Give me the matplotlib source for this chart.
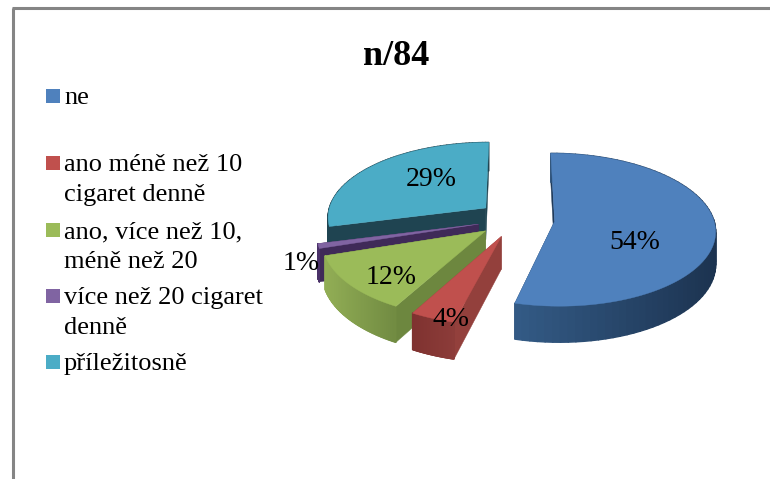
import numpy as np
import matplotlib
matplotlib.use('Agg')
import matplotlib.pyplot as plt
from matplotlib.collections import PolyCollection
from matplotlib.colors import to_rgb
from matplotlib.patches import Rectangle

title = 'n/84'
labels = ['ne', 'ano méně než 10\ncigaret denně', 'ano, více než 10,\nméně než 20',
          'více než 20 cigaret\ndenně', 'příležitosně']
values = [54, 4, 12, 1, 29]
top_colors = ['#4f81bd', '#c0504d', '#9bbb59', '#8064a2', '#4bacc6']
cut_colors = ['#1f3a5a', '#93403c', '#6d873f', '#3f2a58', '#1f4451']
wall_left = ['#335a85', '#7f3230', '#92ae55', '#4a3168', '#1f4451']
wall_right = ['#1c3350', '#8c3c39', '#718b42', '#4a3168', '#1f4451']
label_pos = [(635, 242), (451, 319), (391, 277), (301, 263), (431, 180)]
legend_y = [96, 163, 230, 296, 362]

# pie geometry, in pixels of the 770x479 canvas
CX, CY = 516, 219
RX, RY = 159, 75
EXPLODE = 0.244
PERSP = 0.11
DEPTH = 32


def project(x, y, drop=0.0):
    s = 1 / (1 + PERSP * y)
    return CX + RX * x * s, CY - RY * y * s + drop * s


def point(theta, mid, r=1.0, drop=0.0):
    x = EXPLODE * np.cos(mid) + r * np.cos(theta)
    y = EXPLODE * np.sin(mid) + r * np.sin(theta)
    return project(x, y, drop)


fig = plt.figure(figsize=(7.7, 4.79), dpi=100)
ax = fig.add_axes([0, 0, 1, 1])
ax.set_xlim(0, 770)
ax.set_ylim(479, 0)
ax.axis('off')
plt.rcParams['font.family'] = ['Liberation Serif', 'DejaVu Serif']

# frame, only the top and left edges show
ax.plot([13, 13], [479, 8], color='#858585', lw=2.2, solid_capstyle='butt')
ax.plot([12, 770], [8, 8], color='#858585', lw=2.2, solid_capstyle='butt')

ax.text(396, 56, title, fontsize=26, fontweight='bold', ha='center', va='center')

# slice angles run clockwise from twelve o'clock
fracs = np.array(values) / sum(values) * 2 * np.pi
starts = np.pi / 2 - np.concatenate([[0], np.cumsum(fracs)[:-1]])
ends = starts - fracs
mids = (starts + ends) / 2

# painter's order, back to front
for i in [4, 3, 2, 0, 1]:
    start, end, mid = starts[i], ends[i], mids[i]
    thetas = np.linspace(start, end, 80)

    for cut in sorted([start, end], key=lambda a: -np.sin(a)):
        quad = [point(cut, mid, 0), point(cut, mid, 1),
                point(cut, mid, 1, DEPTH), point(cut, mid, 0, DEPTH)]
        ax.fill(*zip(*quad), color=cut_colors[i], lw=0.3)

    # outer rim shaded from left to right on screen
    c0, c1 = np.array(to_rgb(wall_left[i])), np.array(to_rgb(wall_right[i]))
    order = np.sort(thetas)
    xs = np.array([point(a, mid)[0] for a in order])
    quads = []
    shades = []
    for j in range(len(order) - 1):
        a, b = order[j], order[j + 1]
        quads.append([point(a, mid), point(b, mid), point(b, mid, 1, DEPTH), point(a, mid, 1, DEPTH)])
        t = (xs[j] - xs.min()) / (xs.max() - xs.min())
        shades.append(c0 + (c1 - c0) * t)
    ax.add_collection(PolyCollection(quads, facecolors=shades, edgecolors=shades, linewidths=1.0))

    top = [point(start, mid, 0)] + [point(t, mid) for t in thetas]
    ax.fill(*zip(*top), color=top_colors[i], lw=0.3)

for v, (x, y) in zip(values, label_pos):
    ax.text(x, y, f'{v}%', fontsize=20, ha='center', va='center', color='black')

# legend
for lab, col, y in zip(labels, top_colors, legend_y):
    ax.add_patch(Rectangle((46, y - 7), 13.5, 14, facecolor=col, edgecolor='none'))
    ax.text(64, y - 9, lab, fontsize=19, ha='left', va='top', linespacing=1.47)

fig.savefig('out.png', dpi=100)
